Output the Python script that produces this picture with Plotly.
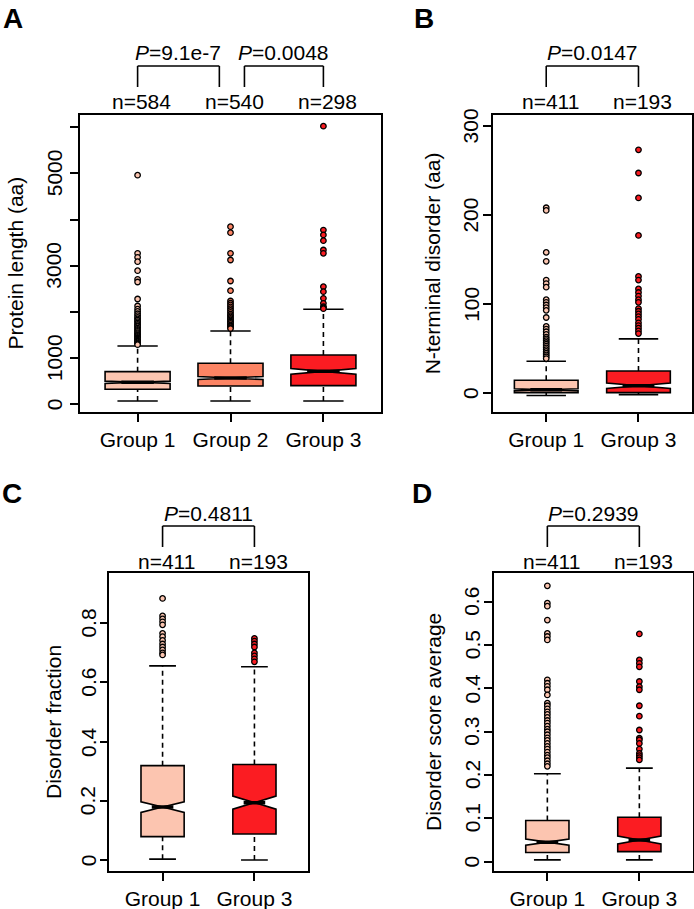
import plotly.graph_objects as go

W, H = 694, 909

# ---------------- data ----------------
colors = {"Group 1": "#FCC5B0", "Group 2": "#FC8464", "Group 3": "#FB1C22"}

# Panel A: Protein length (aa)
groups_A = ["Group 1", "Group 2", "Group 3"]
n_A = ["n=584", "n=540", "n=298"]
lowf_A = [70, 70, 70]
q1_A = [325, 396, 403]
med_A = [476, 569, 713]
q3_A = [706, 887, 1067]
upf_A = [1262, 1587, 2056]
notch_A = [25, 33, 61]
out_A = [
    [4960, 3268, 3182, 3087, 2892, 2705, 2647, 2279, 2128, 2060, 2010, 1960, 1920,
     1880, 1850, 1820, 1790, 1760, 1730, 1700, 1680, 1650, 1620, 1600, 1580, 1550,
     1530, 1510, 1490, 1470, 1450, 1430, 1410, 1390, 1370, 1350, 1330, 1310, 1290],
    [3844, 3714, 3268, 3123, 2669, 2459, 2236, 2190, 2150, 2110, 2070, 2030, 1990,
     1950, 1920, 1890, 1860, 1830, 1800, 1780, 1750, 1720, 1700, 1680, 1660, 1640],
    [6020, 3772, 3665, 3542, 3340, 3268, 2546, 2438, 2294, 2186, 2113, 2090, 2070],
]
pvals_A = ["<i>P</i>=9.1e-7", "<i>P</i>=0.0048"]
yticks_A = [0, 1000, 2000, 3000, 4000, 5000, 6000]
yticktext_A = ["0", "1000", "", "3000", "", "5000", ""]

# Panel B: N-terminal disorder (aa)
groups_B = ["Group 1", "Group 3"]
n_B = ["n=411", "n=193"]
lowf_B = [-2.5, -1.5]
q1_B = [0.8, 0.8]
med_B = [4, 8.5]
q3_B = [14.7, 25]
upf_B = [36, 61]
notch_B = [1.1, 3]
out_B = [
    [208, 205, 158, 148, 127, 123, 119, 105, 102, 99, 96, 93, 85, 75, 72, 69, 66,
     63, 61, 59, 57, 55, 53, 51, 49, 47, 45, 43, 41, 39],
    [273, 247, 219, 177, 131, 127, 117, 113, 109, 105, 102, 95, 92, 89, 86, 83, 79,
     76, 73, 70, 67],
]
pvals_B = ["<i>P</i>=0.0147"]
yticks_B = [0, 100, 200, 300]
yticktext_B = ["0", "100", "200", "300"]

# Panel C: Disorder fraction
groups_C = ["Group 1", "Group 3"]
n_C = ["n=411", "n=193"]
lowf_C = [0.003, 0.0]
q1_C = [0.079, 0.088]
med_C = [0.179, 0.194]
q3_C = [0.319, 0.323]
upf_C = [0.656, 0.653]
notch_C = [0.018, 0.022]
out_C = [
    [0.884, 0.825, 0.815, 0.805, 0.795, 0.766, 0.755, 0.742, 0.73, 0.72, 0.71, 0.70, 0.693],
    [0.749, 0.74, 0.73, 0.72, 0.70, 0.69, 0.68, 0.67],
]
pvals_C = ["<i>P</i>=0.4811"]
yticks_C = [0, 0.2, 0.4, 0.6, 0.8]
yticktext_C = ["0", "0.2", "0.4", "0.6", "0.8"]

# Panel D: Disorder score average
groups_D = ["Group 1", "Group 3"]
n_D = ["n=411", "n=193"]
lowf_D = [0.004, 0.004]
q1_D = [0.021, 0.023]
med_D = [0.045, 0.050]
q3_D = [0.095, 0.1025]
upf_D = [0.203, 0.216]
notch_D = [0.007, 0.009]
out_D = [
    [0.637, 0.597, 0.59, 0.558, 0.527, 0.52, 0.512, 0.42, 0.412, 0.405, 0.397, 0.385,
     0.366, 0.36, 0.353, 0.346, 0.34, 0.333, 0.326, 0.32, 0.313, 0.306, 0.30, 0.293,
     0.286, 0.28, 0.273, 0.266, 0.26, 0.253, 0.246, 0.24, 0.233, 0.226, 0.22],
    [0.526, 0.466, 0.458, 0.45, 0.416, 0.404, 0.397, 0.36, 0.336, 0.304, 0.285, 0.281,
     0.273, 0.26, 0.25, 0.245, 0.24, 0.235],
]
pvals_D = ["<i>P</i>=0.2939"]
yticks_D = [0, 0.1, 0.2, 0.3, 0.4, 0.5, 0.6]
yticktext_D = ["0", "0.1", "0.2", "0.3", "0.4", "0.5", "0.6"]

# ---------------- style / layout constants ----------------
FONT = "Liberation Sans, Arial, Helvetica, sans-serif"
FS = 21
LW = 1.6

def px_x(p):
    return p / W

def px_y(p):
    return 1 - p / H

panels = [
    dict(key="A", xa="x", ya="y", groups=groups_A, n=n_A, lowf=lowf_A, q1=q1_A, med=med_A,
         q3=q3_A, upf=upf_A, notch=notch_A, out=out_A, boxw=0.70,
         xdom=[80, 381], ydom=[115, 412], xr=[0.38, 3.62], yr=[-167, 6262],
         yt=yticks_A, ytt=yticktext_A, title="Protein length (aa)", title_x=15,
         letter_xy=(13, 19), top=0, lab_off=26,
         brackets=[(1, 1.88, pvals_A[0]), (2.15, 3, pvals_A[1])]),
    dict(key="B", xa="x2", ya="y2", groups=groups_B, n=n_B, lowf=lowf_B, q1=q1_B, med=med_B,
         q3=q3_B, upf=upf_B, notch=notch_B, out=out_B, boxw=0.69,
         xdom=[492.7, 692], ydom=[115, 411.7], xr=[0.42, 2.58], yr=[-20.6, 312],
         yt=yticks_B, ytt=yticktext_B, title="N-terminal disorder (aa)", title_x=432,
         letter_xy=(424, 19), top=0, lab_off=22,
         brackets=[(1, 2, pvals_B[0])]),
    dict(key="C", xa="x3", ya="y3", groups=groups_C, n=n_C, lowf=lowf_C, q1=q1_C, med=med_C,
         q3=q3_C, upf=upf_C, notch=notch_C, out=out_C, boxw=0.47,
         xdom=[109.3, 307.7], ydom=[573.3, 870.7], xr=[0.42, 2.58], yr=[-0.036, 0.969],
         yt=yticks_C, ytt=yticktext_C, title="Disorder fraction", title_x=53,
         letter_xy=(12, 494), top=460, lab_off=21,
         brackets=[(1, 2, pvals_C[0])]),
    dict(key="D", xa="x4", ya="y4", groups=groups_D, n=n_D, lowf=lowf_D, q1=q1_D, med=med_D,
         q3=q3_D, upf=upf_D, notch=notch_D, out=out_D, boxw=0.47,
         xdom=[494, 692.7], ydom=[573.3, 870.7], xr=[0.42, 2.58], yr=[-0.021, 0.666],
         yt=yticks_D, ytt=yticktext_D, title="Disorder score average", title_x=433,
         letter_xy=(422, 493), top=460, lab_off=22,
         brackets=[(1, 2, pvals_D[0])]),
]

fig = go.Figure()
annotations = []
shapes = []
layout_axes = {}

for pi, P in enumerate(panels):
    xa, ya = P["xa"], P["ya"]
    pos = list(range(1, len(P["groups"]) + 1))
    bw = P["boxw"]
    cw = 0.62 * bw
    for i, g in enumerate(P["groups"]):
        x = pos[i]
        col = colors[g]
        # notched box (whiskers drawn separately, dashed)
        fig.add_trace(go.Box(
            x=[x], q1=[P["q1"][i]], median=[P["med"][i]], q3=[P["q3"][i]],
            lowerfence=[P["q1"][i]], upperfence=[P["q3"][i]],
            notchspan=[P["notch"][i]], notched=True, notchwidth=0.5,
            width=bw, whiskerwidth=0, fillcolor=col,
            line=dict(color="black", width=LW), boxpoints=False,
            xaxis=xa, yaxis=ya, showlegend=False, hoverinfo="skip"))
        # dashed whiskers
        fig.add_trace(go.Scatter(
            x=[x, x, None, x, x],
            y=[P["lowf"][i], P["q1"][i], None, P["q3"][i], P["upf"][i]],
            mode="lines", line=dict(color="black", width=LW, dash="5px,4px"),
            xaxis=xa, yaxis=ya, showlegend=False, hoverinfo="skip"))
        # whisker caps
        fig.add_trace(go.Scatter(
            x=[x - cw / 2, x + cw / 2, None, x - cw / 2, x + cw / 2],
            y=[P["lowf"][i], P["lowf"][i], None, P["upf"][i], P["upf"][i]],
            mode="lines", line=dict(color="black", width=LW),
            xaxis=xa, yaxis=ya, showlegend=False, hoverinfo="skip"))
        # thick median
        fig.add_trace(go.Scatter(
            x=[x - bw / 4, x + bw / 4], y=[P["med"][i], P["med"][i]],
            mode="lines", line=dict(color="black", width=3.5),
            xaxis=xa, yaxis=ya, showlegend=False, hoverinfo="skip"))
        # outliers
        fig.add_trace(go.Scatter(
            x=[x] * len(P["out"][i]), y=P["out"][i], mode="markers",
            marker=dict(size=5.5, color=col, line=dict(color="black", width=1.3)),
            xaxis=xa, yaxis=ya, showlegend=False, hoverinfo="skip"))
        # n labels
        annotations.append(dict(
            text=P["n"][i], x=x, y=px_y(P["top"] + 101), xref=xa, yref="paper",
            xshift=4, showarrow=False, font=dict(family=FONT, size=FS, color="black"),
            xanchor="center", yanchor="middle"))

    # brackets + P values
    for (x1, x2, ptxt) in P["brackets"]:
        ytop = px_y(P["top"] + 66)
        ybot = px_y(P["top"] + 87)
        for (ax0, ay0, ax1, ay1) in [(x1, ybot, x1, ytop), (x1, ytop, x2, ytop), (x2, ytop, x2, ybot)]:
            shapes.append(dict(type="line", xref=xa, yref="paper", x0=ax0, y0=ay0,
                               x1=ax1, y1=ay1, line=dict(color="black", width=LW)))
        annotations.append(dict(
            text=ptxt, x=(x1 + x2) / 2, y=px_y(P["top"] + 53), xref=xa, yref="paper",
            showarrow=False, font=dict(family=FONT, size=FS, color="black"),
            xanchor="center", yanchor="middle"))

    # y tick labels (rotated, parallel to axis as in the original)
    for tv, tt in zip(P["yt"], P["ytt"]):
        if tt:
            annotations.append(dict(
                text=tt, x=px_x(P["xdom"][0] - P["lab_off"]), y=tv,
                xref="paper", yref=ya, textangle=-90, showarrow=False,
                font=dict(family=FONT, size=FS, color="black"),
                xanchor="center", yanchor="middle"))

    # axis title
    annotations.append(dict(
        text=P["title"], x=px_x(P["title_x"]), y=px_y((P["ydom"][0] + P["ydom"][1]) / 2),
        xref="paper", yref="paper", textangle=-90, showarrow=False,
        font=dict(family=FONT, size=FS, color="black"), xanchor="center", yanchor="middle"))
    # panel letter
    annotations.append(dict(
        text="<b>%s</b>" % P["key"], x=px_x(P["letter_xy"][0]), y=px_y(P["letter_xy"][1]),
        xref="paper", yref="paper", showarrow=False,
        font=dict(family=FONT, size=28, color="black"), xanchor="center", yanchor="middle"))

    suffix = "" if pi == 0 else str(pi + 1)
    common = dict(showline=True, mirror=True, linecolor="black", linewidth=LW,
                  ticks="outside", ticklen=8, tickwidth=LW, tickcolor="black",
                  showgrid=False, zeroline=False, automargin=False,
                  tickfont=dict(family=FONT, size=FS, color="black"))
    layout_axes["xaxis" + suffix] = dict(
        common, domain=[px_x(P["xdom"][0]), px_x(P["xdom"][1])], range=P["xr"],
        anchor=ya, tickmode="array", tickvals=pos, ticktext=P["groups"])
    layout_axes["yaxis" + suffix] = dict(
        common, domain=[px_y(P["ydom"][1]), px_y(P["ydom"][0])], range=P["yr"],
        anchor=xa, tickmode="array", tickvals=P["yt"], showticklabels=False)

fig.update_layout(
    width=W, height=H, margin=dict(l=0, r=0, t=0, b=0, autoexpand=False),
    paper_bgcolor="white", plot_bgcolor="white",
    showlegend=False, annotations=annotations, shapes=shapes,
    font=dict(family=FONT, size=FS, color="black"),
    **layout_axes)

fig.write_html("out.html", config={"displayModeBar": False},
               post_script="document.body.style.margin='0';document.body.style.overflow='hidden';")
